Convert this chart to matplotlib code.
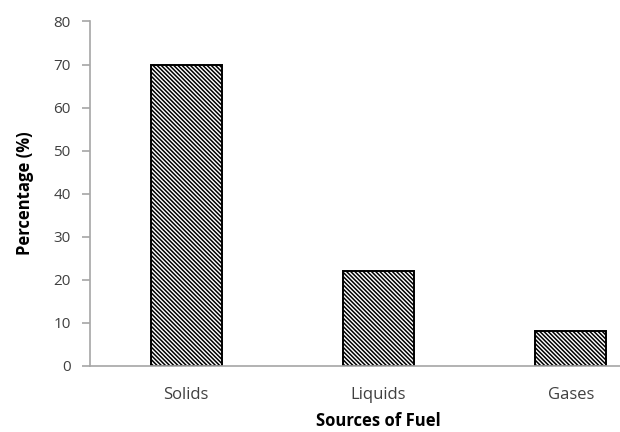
import matplotlib.pyplot as plt

# data
categories = ["Solids", "Liquids", "Gases"]
percentages = [70, 22, 8]
y_ticks = [0, 10, 20, 30, 40, 50, 60, 70, 80]

plt.rcParams['font.family'] = ['Open Sans', 'DejaVu Sans']
plt.rcParams['hatch.linewidth'] = 1.1

fig = plt.figure(figsize=(6.2, 4.32), dpi=100)
# axes runs past the right edge like the cropped excel chart
ax = fig.add_axes([90 / 620, 66.3 / 432, 577 / 620, 344.2 / 432])

x = range(len(categories))
ax.bar(x, percentages, width=0.37, color='white', edgecolor='black',
       linewidth=1.4, hatch='\\' * 8)

ax.set_xlim(-0.5, 2.5)
ax.set_ylim(0, 80)
ax.set_yticks(y_ticks)
ax.set_xticks(list(x))
ax.set_xticklabels(categories)

for s in ['top', 'right']:
    ax.spines[s].set_visible(False)
for s in ['left', 'bottom']:
    ax.spines[s].set_color('#a6a6a6')
    ax.spines[s].set_linewidth(1.2)

ax.tick_params(axis='y', length=6, width=1.2, color='#a6a6a6', pad=8,
               labelsize=11, labelcolor='#404040')
ax.tick_params(axis='x', length=0, pad=15, labelsize=12, labelcolor='#404040')

ax.set_ylabel("Percentage (%)", fontsize=12, fontweight='bold', labelpad=14)
ax.set_xlabel("Sources of Fuel", fontsize=12, fontweight='bold', labelpad=7)

fig.savefig("out.png", dpi=100)
